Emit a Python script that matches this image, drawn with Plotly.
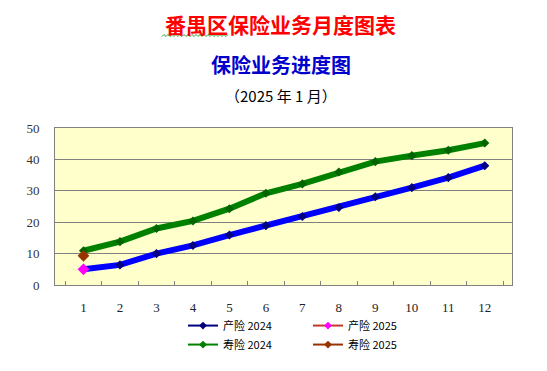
import plotly.graph_objects as go

months = [str(i) for i in range(1, 13)]
chanxian_2024 = [5.0, 6.4, 10.0, 12.6, 15.9, 18.9, 21.8, 24.7, 28.1, 31.0, 34.2, 38.0]
shouxian_2024 = [10.9, 13.8, 18.0, 20.4, 24.3, 29.2, 32.2, 36.0, 39.3, 41.2, 42.9, 45.2]
chanxian_2025 = [5.0]
shouxian_2025 = [9.3]
y_ticks = [0, 10, 20, 30, 40, 50]

CJK = "Noto Sans CJK SC"
SERIF = "Liberation Serif, Times New Roman, serif"

fig = go.Figure()

# data traces
fig.add_trace(go.Scatter(x=months, y=chanxian_2024, mode="lines+markers",
                         line=dict(color="#0000FF", width=6),
                         marker=dict(symbol="diamond", size=7, color="#000080"),
                         showlegend=False))
fig.add_trace(go.Scatter(x=months, y=shouxian_2024, mode="lines+markers",
                         line=dict(color="#008000", width=6),
                         marker=dict(symbol="diamond", size=7, color="#006400"),
                         showlegend=False))
fig.add_trace(go.Scatter(x=months[:1], y=chanxian_2025, mode="markers",
                         marker=dict(symbol="diamond", size=9, color="#FF00FF"),
                         showlegend=False))
fig.add_trace(go.Scatter(x=months[:1], y=shouxian_2025, mode="markers",
                         marker=dict(symbol="diamond", size=9, color="#993300"),
                         showlegend=False))

# legend entries (two columns via two legends)
legend_items = [
    ("产险 2024", "#000080", "#000080", "legend"),
    ("寿险 2024", "#008000", "#008000", "legend"),
    ("产险 2025", "#C0392B", "#FF00FF", "legend2"),
    ("寿险 2025", "#993300", "#993300", "legend2"),
]
for name, lc, mc, lg in legend_items:
    fig.add_trace(go.Scatter(x=[None], y=[None], mode="lines+markers", name=name,
                             line=dict(color=lc, width=2), legend=lg,
                             marker=dict(symbol="diamond", size=6, color=mc)))

leg_common = dict(orientation="v", xanchor="left", y=-0.166, yanchor="top",
                  tracegroupgap=0, itemwidth=30,
                  font=dict(family=CJK, size=11, color="black"),
                  bgcolor="rgba(0,0,0,0)")

fig.update_layout(
    width=547, height=371,
    margin=dict(l=55, r=35, t=128, b=86, autoexpand=False),
    paper_bgcolor="white",
    plot_bgcolor="#FFFFCC",
    showlegend=True,
    legend=dict(x=(183 - 55) / 457, **leg_common),
    legend2=dict(x=(308 - 55) / 457, **leg_common),
    xaxis=dict(type="category", categoryorder="array", categoryarray=months,
               tickson="boundaries", ticks="inside", ticklen=4, tickcolor="#808080",
               showline=True, linecolor="#808080", linewidth=1, mirror=True,
               showgrid=False, ticklabelstandoff=10,
               tickfont=dict(family=SERIF, size=13, color="#222")),
    yaxis=dict(range=[0, 50], tickvals=y_ticks, ticks="", showgrid=True,
               gridcolor="#808080", gridwidth=1, zeroline=False,
               showline=True, linecolor="#808080", linewidth=1, mirror=True,
               ticklabelstandoff=12,
               tickfont=dict(family=SERIF, size=13, color="#333")),
    annotations=[
        dict(text="<b>番禺区保险业务月度图表</b>", xref="paper", yref="paper",
             x=(280.5 - 55) / 457, y=(285 - 23.5) / 157, xanchor="center", yanchor="middle",
             showarrow=False, font=dict(family=CJK, size=21, color="#FF0000")),
        dict(text="<b>保险业务进度图</b>", xref="paper", yref="paper",
             x=(281 - 55) / 457, y=(285 - 64) / 157, xanchor="center", yanchor="middle",
             showarrow=False, font=dict(family=CJK, size=20, color="#0000CC")),
        dict(text="（2025 年 1 月）", xref="paper", yref="paper",
             x=(281 - 55) / 457, y=(285 - 95) / 157, xanchor="center", yanchor="middle",
             showarrow=False, font=dict(family=CJK, size=15, color="black")),
    ],
)

# wavy spell-check underline under 番禺 (decoration)
def px_to_paper(px, py):
    return (px - 55) / 457, (285 - py) / 157

pts = []
xx = 162
up = False
while xx <= 228:
    pts.append(px_to_paper(xx, 34.5 if up else 36.5))
    xx += 2
    up = not up
p = "M " + " L ".join(f"{a:.5f},{b:.5f}" for a, b in pts)
fig.add_shape(type="path", path=p, xref="paper", yref="paper",
              line=dict(color="#2E9E2E", width=1), layer="above")

fig.write_html("out.html", config={"displayModeBar": False},
               post_script="document.body.style.margin='0';")
